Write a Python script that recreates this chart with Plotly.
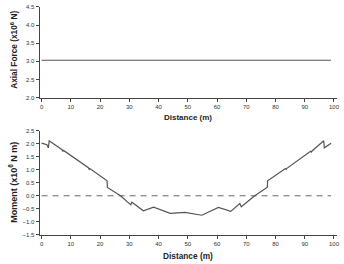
import plotly.graph_objects as go

# Axial force data
axial_dist = [0, 99]
axial_force = [3.03, 3.03]

# Moment data
moment_dist = [0, 1.8, 2.3, 2.6, 7.0, 7.3, 7.5, 16.0, 16.3, 16.5, 22.4, 22.5, 27.0,
               30.5, 30.9, 34.8, 38.3, 44.0, 49.0, 54.8, 60.5, 64.7, 67.8, 68.3,
               72.9, 77.2, 77.3, 83.4, 83.7, 83.9, 92.0, 92.3, 92.5, 96.5, 96.7, 99.0]
moment_val = [2.03, 1.97, 1.85, 2.12, 1.78, 1.72, 1.75, 1.08, 1.02, 1.05, 0.58, 0.32, 0.0,
              -0.35, -0.25, -0.58, -0.44, -0.68, -0.64, -0.75, -0.45, -0.60, -0.30, -0.42,
              0.0, 0.33, 0.58, 1.05, 1.02, 1.06, 1.72, 1.69, 1.73, 2.12, 1.85, 2.03]

zero_line_x = [0, 99]
zero_line_y = [0, 0]

x_ticks = [0, 10, 20, 30, 40, 50, 60, 70, 80, 90, 100]
top_y_ticks = [2.0, 2.5, 3.0, 3.5, 4.0, 4.5]
bot_y_ticks = [-1.5, -1.0, -0.5, 0.0, 0.5, 1.0, 1.5, 2.0, 2.5]

fig = go.Figure()
line_col = "#555555"
fig.add_trace(go.Scatter(x=axial_dist, y=axial_force, mode="lines",
                         line=dict(color=line_col, width=1.2), xaxis="x", yaxis="y", showlegend=False))
fig.add_trace(go.Scatter(x=zero_line_x, y=zero_line_y, mode="lines",
                         line=dict(color="#666666", width=1, dash="6px,5px"), xaxis="x2", yaxis="y2", showlegend=False))
fig.add_trace(go.Scatter(x=moment_dist, y=moment_val, mode="lines",
                         line=dict(color=line_col, width=1.2), xaxis="x2", yaxis="y2", showlegend=False))

tickfont = dict(family="Liberation Sans, Arial", size=6, color="#333333")
common_x = dict(range=[-0.7, 101], tickvals=x_ticks, ticks="outside", ticklen=3, tickwidth=1,
                tickcolor="#444", showline=True, linecolor="#444", linewidth=1, showgrid=False,
                zeroline=False, tickfont=tickfont, domain=[0.116, 0.988])
common_y = dict(ticks="outside", ticklen=3, tickwidth=1, tickcolor="#444", showline=True,
                linecolor="#444", linewidth=1, showgrid=False, zeroline=False, tickfont=tickfont)

fig.update_layout(
    width=344, height=264, margin=dict(l=0, r=0, t=0, b=0),
    paper_bgcolor="white", plot_bgcolor="white",
    xaxis=dict(**common_x, anchor="y"),
    yaxis=dict(**common_y, range=[2.0, 4.5], tickvals=top_y_ticks, tickformat=".1f",
               domain=[0.633, 0.985], anchor="x"),
    xaxis2=dict(**common_x, anchor="y2"),
    yaxis2=dict(**common_y, range=[-1.5, 2.5], tickvals=bot_y_ticks, tickformat=".1f",
                domain=[0.102, 0.504], anchor="x2"),
)

def title(text, px, py, size, angle=0):
    fig.add_annotation(text=text, x=px/344, y=1-py/264, xref="paper", yref="paper",
                       xanchor="center", yanchor="middle", textangle=angle, showarrow=False,
                       font=dict(family="Liberation Sans, Arial", size=size, color="#222222"))

title("<b>Axial Force (x10<sup>6</sup> N)</b>", 14, 48, 8.3, -90)
title("<b>Distance (m)</b>", 190, 117, 8)
title("<b>Moment (x10<sup>6</sup> N m)</b>", 13, 183, 9, -90)
title("<b>Distance (m)</b>", 190, 259, 8.3)

fig.write_html("out.html")
